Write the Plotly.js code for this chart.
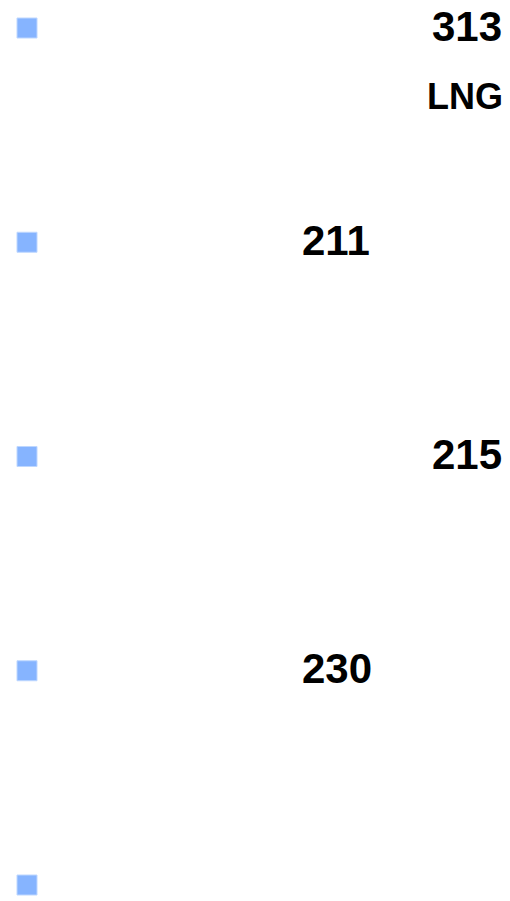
<!DOCTYPE html>
<html>
<head>
<meta charset="utf-8">
<script src="https://cdn.plot.ly/plotly-3.0.1.min.js"></script>
<style>
  html, body { margin: 0; padding: 0; background: #ffffff; }
  #chart { width: 510px; height: 901px; }
</style>
</head>
<body>
<div id="chart"></div>
<script>
// ---- data ----
const rows = [0, 1, 2, 3, 4];
const values = [313, 211, 215, 230, null];
const subLabels = ['LNG', '', '', '', ''];

// ---- styles (layout only) ----
const bulletColor = 'rgb(134,180,255)';
const valueAnchor = ['right', 'left', 'right', 'left', 'left'];
const valueX = { right: 504 / 510, left: 300 / 510 };

const bullets = {
  type: 'scatter',
  mode: 'markers',
  x: rows.map(() => 0),
  y: rows,
  marker: {
    symbol: 'square',
    size: 20,
    color: bulletColor,
    line: { color: 'rgb(190,215,255)', width: 1 }
  },
  hoverinfo: 'skip',
  showlegend: false
};

const annotations = [];
rows.forEach((r, i) => {
  if (values[i] !== null) {
    annotations.push({
      xref: 'paper', yref: 'y',
      x: valueX[valueAnchor[i]], y: r,
      xanchor: valueAnchor[i], yanchor: 'middle', yshift: 2,
      text: String(values[i]),
      showarrow: false,
      font: { family: 'Liberation Sans, Arial, sans-serif', size: 42, color: '#000000', weight: 'bold' }
    });
  }
  if (subLabels[i]) {
    annotations.push({
      xref: 'paper', yref: 'y',
      x: 505 / 510, y: r + 0.32,
      xanchor: 'right', yanchor: 'middle',
      text: subLabels[i],
      showarrow: false,
      font: { family: 'Liberation Sans, Arial, sans-serif', size: 36, color: '#000000', weight: 'bold' }
    });
  }
});

const layout = {
  width: 510,
  height: 901,
  margin: { l: 0, r: 0, t: 0, b: 0, pad: 0 },
  paper_bgcolor: '#ffffff',
  plot_bgcolor: '#ffffff',
  xaxis: { range: [-27, 483], visible: false, fixedrange: true },
  yaxis: { range: [4.0747, -0.1307], visible: false, fixedrange: true },
  annotations: annotations,
  showlegend: false
};

Plotly.newPlot('chart', [bullets], layout, { displayModeBar: false, staticPlot: true });
</script>
</body>
</html>
